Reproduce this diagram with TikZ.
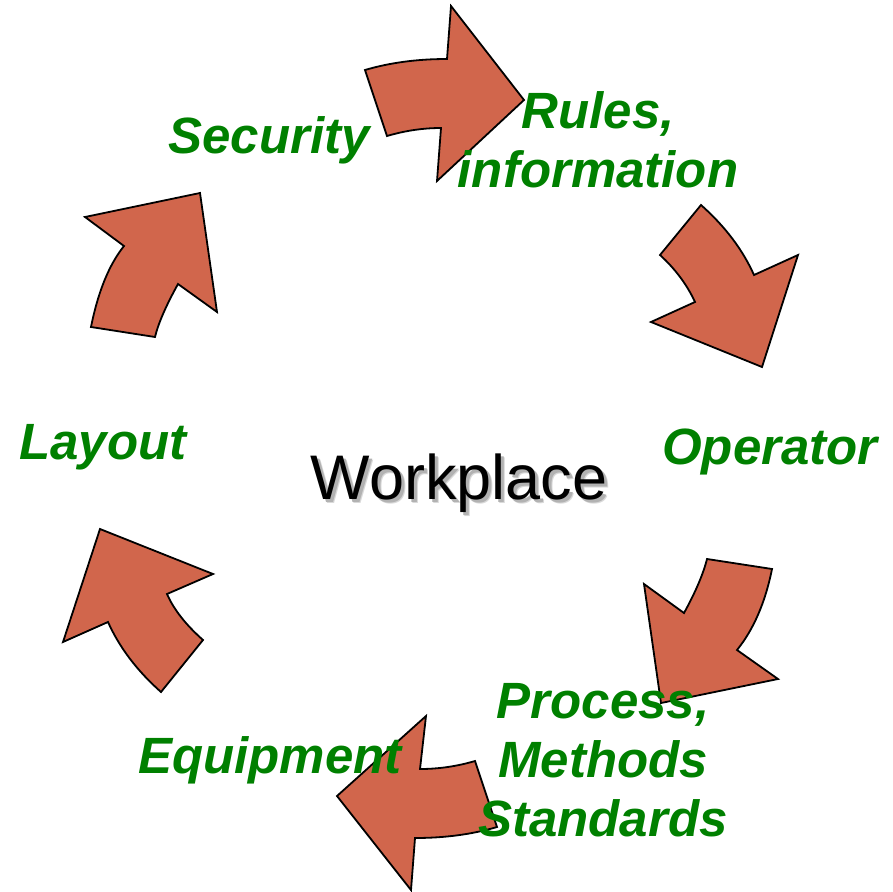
\documentclass[tikz,border=0pt]{standalone}
\usepackage{fontspec}
\setmainfont{Liberation Sans}
\definecolor{arrowfill}{RGB}{209,102,76}
\definecolor{labelgreen}{RGB}{0,128,0}
% text with a soft grey drop shadow set behind it in the same box
\newcommand{\shadowedtext}[1]{%
  \rlap{\kern4pt\raisebox{-4pt}{\textcolor{black!15}{#1}}}%
  \rlap{\kern3pt\raisebox{-3pt}{\textcolor{black!30}{#1}}}%
  \textcolor{black}{#1}}
\begin{document}
\begin{tikzpicture}[x=1pt,y=-1pt,
  cyclearrow/.style={fill=arrowfill,draw=black,line width=1.8pt,line join=miter},
  steplabel/.style={text=labelgreen,font=\bfseries\itshape\fontsize{51}{59}\selectfont,align=center,inner sep=0pt},
  centrelabel/.style={font=\fontsize{63}{70}\selectfont,inner sep=0pt}]
\useasboundingbox (0,0) rectangle (893,891);

% top arrow, pointing right
\draw[cyclearrow] (365,70) .. controls (389.7,62.7) and (417,59) .. (447,59)
  -- (451,6) -- (524,100) -- (437,181) -- (441,128)
  .. controls (423,128) and (405,130.7) .. (387,136) -- cycle;

% upper right arrow, pointing down-right
\draw[cyclearrow] (701,205) -- (660,255)
  .. controls (675.3,269) and (687,284.7) .. (695,302)
  -- (651,322) -- (762,367) -- (798,255) -- (754,275)
  .. controls (742.7,249.7) and (725,226.3) .. (701,205) -- cycle;

% lower right arrow, pointing down-left
\draw[cyclearrow] (707,559) -- (772,569)
  .. controls (765.3,602.3) and (753.7,629.3) .. (737,650)
  -- (778,679) -- (661,703) -- (644,584) -- (684,613)
  .. controls (695.7,591.7) and (703.3,573.7) .. (707,559) -- cycle;

% bottom arrow, pointing left
\draw[cyclearrow] (337,796) -- (426,716) -- (420,769)
  .. controls (438.7,769) and (457,766.3) .. (475,761)
  -- (497,827)
  .. controls (472.3,834.3) and (445,838) .. (415,838)
  -- (411,890) -- cycle;

% lower left arrow, pointing up-left
\draw[cyclearrow] (100,529) -- (213,574) -- (167,594)
  .. controls (173.7,609.3) and (185.7,624.7) .. (203,640)
  -- (161,692)
  .. controls (137,670.7) and (119.3,647.3) .. (108,622)
  -- (63,642) -- cycle;

% upper left arrow, pointing up-right
\draw[cyclearrow] (85,217) -- (200,193) -- (217,312) -- (178,284)
  .. controls (166,305.7) and (158.3,323.3) .. (155,337)
  -- (91,327)
  .. controls (98.1,291.7) and (109,264.7) .. (124,246) -- cycle;

% step labels
\node[steplabel] (rules) at (598,140) {Rules,\\information};
\node[steplabel] (security) at (269,140) {Security};
\node[steplabel] (operator) at (770,452) {Operator};
\node[steplabel] (layout) at (103,447) {Layout};
\node[steplabel] (equipment) at (270,760) {Equipment};
\node[steplabel] (process) at (603,760) {Process,\\Methods\\Standards};

% centre title
\node[centrelabel] (title) at (459,485) {\shadowedtext{Workplace}};
\end{tikzpicture}
\end{document}
